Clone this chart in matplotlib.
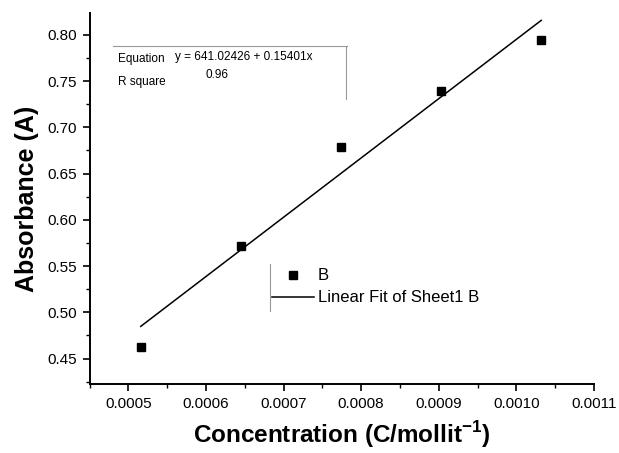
import matplotlib
matplotlib.use("Agg")
import matplotlib.pyplot as plt
from matplotlib.lines import Line2D
from matplotlib.ticker import MultipleLocator, FormatStrFormatter
import numpy as np

plt.rcParams['font.family'] = ['Liberation Sans', 'DejaVu Sans']
plt.rcParams['mathtext.fontset'] = 'custom'
plt.rcParams['mathtext.rm'] = 'Liberation Sans'
plt.rcParams['mathtext.bf'] = 'Liberation Sans:bold'

# Data
concentration = [0.000516, 0.000645, 0.000774, 0.000903, 0.001032]
absorbance = [0.463, 0.572, 0.679, 0.7395, 0.7946]
fit_slope = 641.02426
fit_intercept = 0.15401
r_square = "0.96"
series_label = "B"
fit_label = "Linear Fit of Sheet1 B"

W, H = 619, 453
fig = plt.figure(figsize=(W / 100, H / 100), dpi=100)
ax = fig.add_axes([89.5 / W, 1 - 384 / H, (594 - 89.5) / W, (384 - 13) / H])

def fx(px):
    return px / W

def fy(py):
    return 1 - py / H

xs = np.array([concentration[0], concentration[-1]])
ax.plot(xs, fit_intercept + fit_slope * xs, color='black', lw=1.1, zorder=2)
ax.plot(concentration, absorbance, 's', color='black', ms=6, zorder=3)

ax.set_xlim(0.00045, 0.0011)
ax.set_ylim(0.4225, 0.8235)
ax.xaxis.set_major_locator(MultipleLocator(0.0001))
ax.xaxis.set_minor_locator(MultipleLocator(0.00005))
ax.yaxis.set_major_locator(MultipleLocator(0.05))
ax.yaxis.set_minor_locator(MultipleLocator(0.025))
ax.xaxis.set_major_formatter(FormatStrFormatter('%.4f'))
ax.yaxis.set_major_formatter(FormatStrFormatter('%.2f'))

for s in ['top', 'right']:
    ax.spines[s].set_visible(False)
for s in ['left', 'bottom']:
    ax.spines[s].set_linewidth(1.4)
ax.tick_params(which='major', direction='out', length=5, width=1.2, labelsize=11, pad=4)
ax.tick_params(which='minor', direction='out', length=3, width=1.0)

ax.set_xlabel(r'Concentration (C/mollit$^{\mathbf{-1}}$)', fontsize=17.5, fontweight='bold', labelpad=6)
ax.set_ylabel('Absorbance (A)', fontsize=18, fontweight='bold', labelpad=6)

# Equation table
fig.add_artist(Line2D([fx(113), fx(347)], [fy(46), fy(46)], color='#999999', lw=0.8))
fig.add_artist(Line2D([fx(346), fx(346)], [fy(46), fy(99)], color='#999999', lw=0.8))
fig.text(fx(118), fy(59), 'Equation', fontsize=8.5, va='center', ha='left')
fig.text(fx(175), fy(57), 'y = 641.02426 + 0.15401x', fontsize=8.5, va='center', ha='left')
fig.text(fx(118), fy(82), 'R square', fontsize=8.5, va='center', ha='left')
fig.text(fx(206), fy(75), r_square, fontsize=8.5, va='center', ha='left')

# Legend
fig.add_artist(Line2D([fx(270), fx(270)], [fy(264), fy(311)], color='#999999', lw=0.8))
fig.add_artist(Line2D([fx(293)], [fy(275)], marker='s', color='black', ms=6, ls='none'))
fig.text(fx(318), fy(276), series_label, fontsize=12, va='center', ha='left')
fig.add_artist(Line2D([fx(272), fx(314)], [fy(297), fy(297)], color='black', lw=1.1))
fig.text(fx(318), fy(298), fit_label, fontsize=12, va='center', ha='left')

fig.savefig('out.png', dpi=100)
